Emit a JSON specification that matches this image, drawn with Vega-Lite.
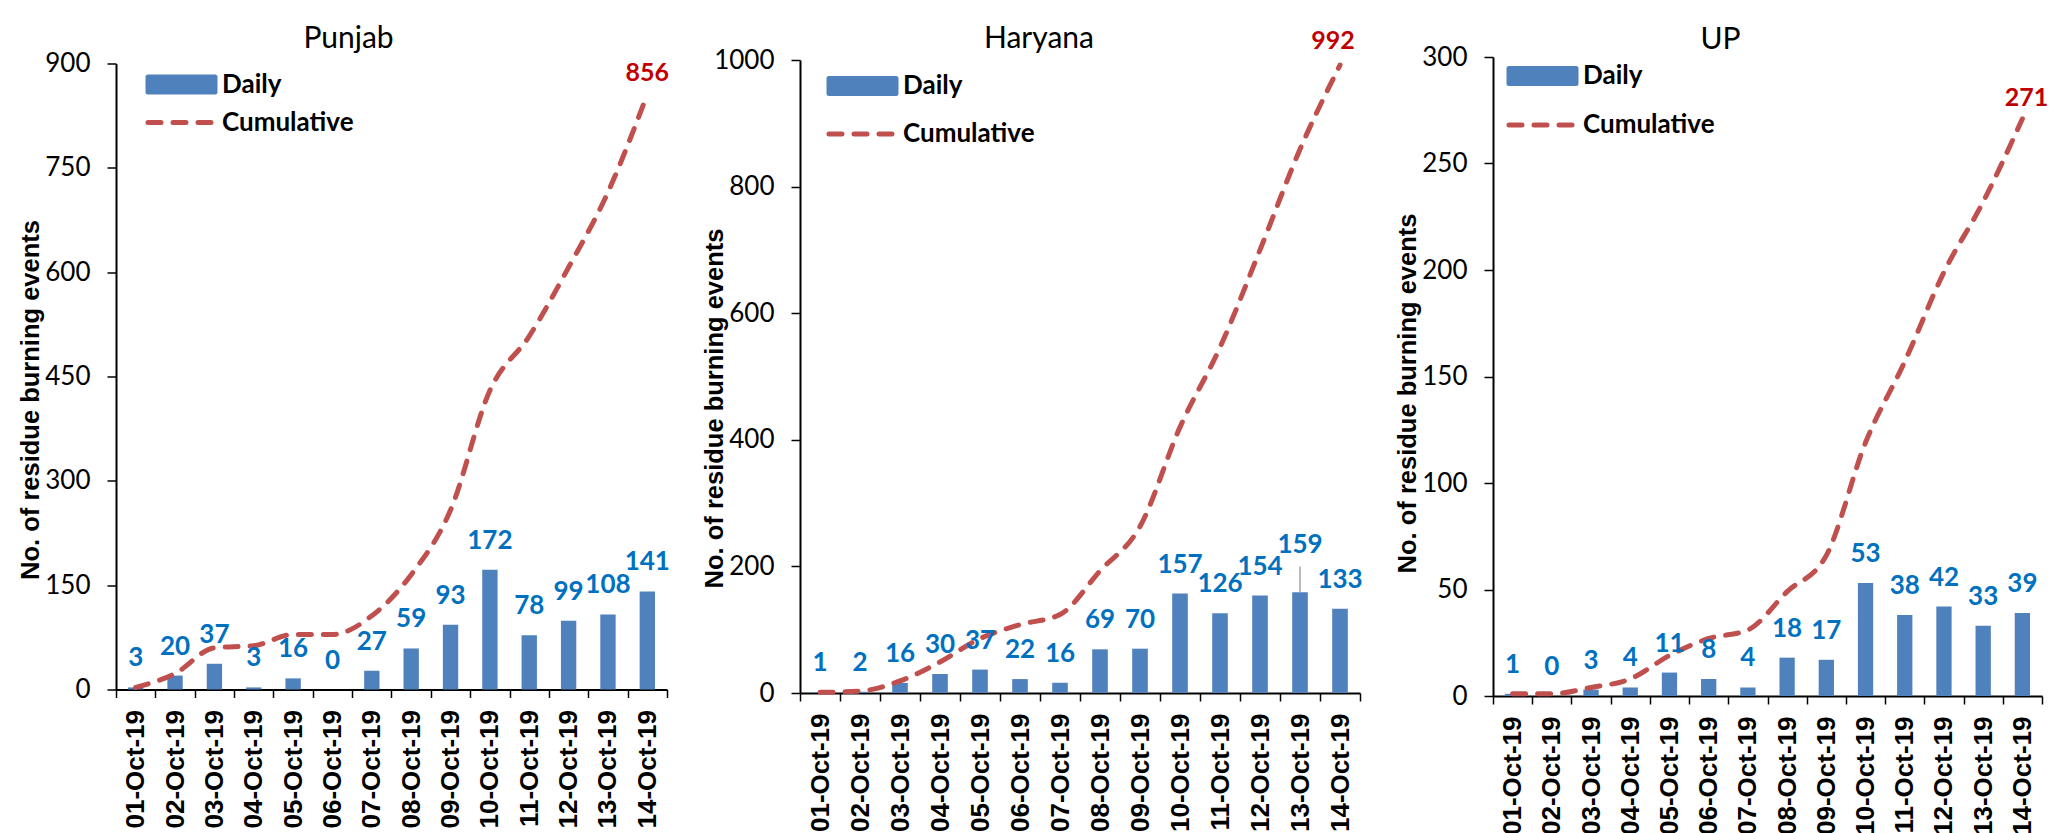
{
  "$schema": "https://vega.github.io/schema/vega-lite/v6.json",
  "background": "white",
  "padding": {"left": 18, "top": 23, "right": 5, "bottom": 0},
  "data": {"values": [
    {"state": "Punjab", "date": "01-Oct-19", "daily": 3, "cumulative": 3},
    {"state": "Punjab", "date": "02-Oct-19", "daily": 20, "cumulative": 23},
    {"state": "Punjab", "date": "03-Oct-19", "daily": 37, "cumulative": 60},
    {"state": "Punjab", "date": "04-Oct-19", "daily": 3, "cumulative": 63},
    {"state": "Punjab", "date": "05-Oct-19", "daily": 16, "cumulative": 79},
    {"state": "Punjab", "date": "06-Oct-19", "daily": 0, "cumulative": 79},
    {"state": "Punjab", "date": "07-Oct-19", "daily": 27, "cumulative": 106},
    {"state": "Punjab", "date": "08-Oct-19", "daily": 59, "cumulative": 165},
    {"state": "Punjab", "date": "09-Oct-19", "daily": 93, "cumulative": 258},
    {"state": "Punjab", "date": "10-Oct-19", "daily": 172, "cumulative": 430},
    {"state": "Punjab", "date": "11-Oct-19", "daily": 78, "cumulative": 508},
    {"state": "Punjab", "date": "12-Oct-19", "daily": 99, "cumulative": 607},
    {"state": "Punjab", "date": "13-Oct-19", "daily": 108, "cumulative": 715},
    {"state": "Punjab", "date": "14-Oct-19", "daily": 141, "cumulative": 856},
    {"state": "Haryana", "date": "01-Oct-19", "daily": 1, "cumulative": 1},
    {"state": "Haryana", "date": "02-Oct-19", "daily": 2, "cumulative": 3},
    {"state": "Haryana", "date": "03-Oct-19", "daily": 16, "cumulative": 19},
    {"state": "Haryana", "date": "04-Oct-19", "daily": 30, "cumulative": 49},
    {"state": "Haryana", "date": "05-Oct-19", "daily": 37, "cumulative": 86},
    {"state": "Haryana", "date": "06-Oct-19", "daily": 22, "cumulative": 108},
    {"state": "Haryana", "date": "07-Oct-19", "daily": 16, "cumulative": 124},
    {"state": "Haryana", "date": "08-Oct-19", "daily": 69, "cumulative": 193},
    {"state": "Haryana", "date": "09-Oct-19", "daily": 70, "cumulative": 263},
    {"state": "Haryana", "date": "10-Oct-19", "daily": 157, "cumulative": 420},
    {"state": "Haryana", "date": "11-Oct-19", "daily": 126, "cumulative": 546},
    {"state": "Haryana", "date": "12-Oct-19", "daily": 154, "cumulative": 700},
    {"state": "Haryana", "date": "13-Oct-19", "daily": 159, "cumulative": 859},
    {"state": "Haryana", "date": "14-Oct-19", "daily": 133, "cumulative": 992},
    {"state": "UP", "date": "01-Oct-19", "daily": 1, "cumulative": 1},
    {"state": "UP", "date": "02-Oct-19", "daily": 0, "cumulative": 1},
    {"state": "UP", "date": "03-Oct-19", "daily": 3, "cumulative": 4},
    {"state": "UP", "date": "04-Oct-19", "daily": 4, "cumulative": 8},
    {"state": "UP", "date": "05-Oct-19", "daily": 11, "cumulative": 19},
    {"state": "UP", "date": "06-Oct-19", "daily": 8, "cumulative": 27},
    {"state": "UP", "date": "07-Oct-19", "daily": 4, "cumulative": 31},
    {"state": "UP", "date": "08-Oct-19", "daily": 18, "cumulative": 49},
    {"state": "UP", "date": "09-Oct-19", "daily": 17, "cumulative": 66},
    {"state": "UP", "date": "10-Oct-19", "daily": 53, "cumulative": 119},
    {"state": "UP", "date": "11-Oct-19", "daily": 38, "cumulative": 157},
    {"state": "UP", "date": "12-Oct-19", "daily": 42, "cumulative": 199},
    {"state": "UP", "date": "13-Oct-19", "daily": 33, "cumulative": 232},
    {"state": "UP", "date": "14-Oct-19", "daily": 39, "cumulative": 271}
  ]},
  "spacing": 133,
  "bounds": "flush",
  "center": true,
  "resolve": {"scale": {"color": "independent", "y": "independent", "x": "independent"}, "legend": {"color": "independent"}, "axis": {"x": "independent", "y": "independent"}},
  "hconcat": [
    {
      "width": 551, "height": 626,
      "title": {"text": "Punjab", "dx": -43, "offset": -3},
      "transform": [{"filter": "datum.state === 'Punjab'"}],
      "encoding": {"x": {"field": "date", "type": "ordinal", "sort": null, "title": null, "scale": {"paddingInner": 0, "paddingOuter": 0}}},
      "layer": [
        {"mark": {"type": "bar", "width": {"band": 0.39}, "color": "#4F81BD"},
         "encoding": {
           "y": {"field": "daily", "type": "quantitative", "title": "No. of residue burning events", "scale": {"domain": [0, 900], "nice": false}, "axis": {"values": [0, 150, 300, 450, 600, 750, 900], "format": "d", "titleY": 336}},
           "color": {"datum": "Daily", "type": "nominal", "scale": {"domain": ["Daily", "Cumulative"], "range": ["#4F81BD", "#C0504D"]},
             "legend": {"legendX": 29, "legendY": 8, "rowPadding": 7,
               "encode": {"symbols": {"update": {
                 "shape": {"signal": "datum.value === 'Daily' ? 'M-1,-0.75H5.7V0.75H-1Z' : 'M-1,0H5.7'"},
                 "fill": {"signal": "datum.value === 'Daily' ? '#4F81BD' : 'transparent'"},
                 "stroke": {"signal": "datum.value === 'Daily' ? 'transparent' : '#C0504D'"},
                 "strokeWidth": {"value": 5},
                 "strokeDash": {"signal": "datum.value === 'Daily' ? [1, 0] : [13, 12]"},
                 "strokeCap": {"value": "round"},
                 "opacity": {"value": 1}}}}}}}},
        {"mark": {"type": "line", "strokeWidth": 5, "strokeDash": [13, 12], "strokeCap": "round", "interpolate": "monotone"},
         "encoding": {
           "y": {"field": "cumulative", "type": "quantitative", "title": "No. of residue burning events", "scale": {"domain": [0, 900], "nice": false}},
           "color": {"datum": "Cumulative", "type": "nominal"}}},
        {"mark": {"type": "text", "dy": -29, "baseline": "middle", "font": "Lato", "fontSize": 26, "fontWeight": "bold", "color": "#0070C0"},
         "encoding": {
           "y": {"field": "daily", "type": "quantitative", "title": "No. of residue burning events", "scale": {"domain": [0, 900], "nice": false}},
           "text": {"field": "daily", "type": "quantitative"}}},
        {"transform": [{"filter": "datum.date === '14-Oct-19'"}],
         "mark": {"type": "text", "dy": -21, "baseline": "middle", "font": "Lato", "fontSize": 25, "fontWeight": "bold", "color": "#C00000"},
         "encoding": {
           "y": {"field": "cumulative", "type": "quantitative", "title": "No. of residue burning events", "scale": {"domain": [0, 900], "nice": false}},
           "text": {"field": "cumulative", "type": "quantitative"}}}
      ]
    },
    {
      "width": 560, "height": 633,
      "title": {"text": "Haryana", "dx": -41, "offset": -25},
      "transform": [{"filter": "datum.state === 'Haryana'"}],
      "encoding": {"x": {"field": "date", "type": "ordinal", "sort": null, "title": null, "scale": {"paddingInner": 0, "paddingOuter": 0}}},
      "layer": [
        {"mark": {"type": "bar", "width": {"band": 0.39}, "color": "#4F81BD"},
         "encoding": {
           "y": {"field": "daily", "type": "quantitative", "title": "No. of residue burning events", "scale": {"domain": [0, 1000], "nice": false}, "axis": {"values": [0, 200, 400, 600, 800, 1000], "format": "d", "titleY": 348}},
           "color": {"datum": "Daily", "type": "nominal", "scale": {"domain": ["Daily", "Cumulative"], "range": ["#4F81BD", "#C0504D"]},
             "legend": {"legendX": 26, "legendY": 13, "rowPadding": 17,
               "encode": {"symbols": {"update": {
                 "shape": {"signal": "datum.value === 'Daily' ? 'M-1,-0.75H5.7V0.75H-1Z' : 'M-1,0H5.7'"},
                 "fill": {"signal": "datum.value === 'Daily' ? '#4F81BD' : 'transparent'"},
                 "stroke": {"signal": "datum.value === 'Daily' ? 'transparent' : '#C0504D'"},
                 "strokeWidth": {"value": 5},
                 "strokeDash": {"signal": "datum.value === 'Daily' ? [1, 0] : [13, 12]"},
                 "strokeCap": {"value": "round"},
                 "opacity": {"value": 1}}}}}}}},
        {"mark": {"type": "line", "strokeWidth": 5, "strokeDash": [13, 12], "strokeCap": "round", "interpolate": "monotone"},
         "encoding": {
           "y": {"field": "cumulative", "type": "quantitative", "title": "No. of residue burning events", "scale": {"domain": [0, 1000], "nice": false}},
           "color": {"datum": "Cumulative", "type": "nominal"}}},
        {"transform": [{"filter": "datum.date !== '13-Oct-19'"}],
         "mark": {"type": "text", "dy": -29, "baseline": "middle", "font": "Lato", "fontSize": 26, "fontWeight": "bold", "color": "#0070C0"},
         "encoding": {
           "y": {"field": "daily", "type": "quantitative", "title": "No. of residue burning events", "scale": {"domain": [0, 1000], "nice": false}},
           "text": {"field": "daily", "type": "quantitative"}}},
        {"transform": [{"filter": "datum.date === '13-Oct-19'"}],
         "mark": {"type": "rule", "color": "#A6A6A6", "strokeWidth": 1.5},
         "encoding": {
           "y": {"field": "daily", "type": "quantitative", "title": "No. of residue burning events", "scale": {"domain": [0, 1000], "nice": false}},
           "y2": {"datum": 200}}},
        {"transform": [{"filter": "datum.date === '13-Oct-19'"}],
         "mark": {"type": "text", "dy": -47, "baseline": "middle", "font": "Lato", "fontSize": 26, "fontWeight": "bold", "color": "#0070C0"},
         "encoding": {
           "y": {"field": "daily", "type": "quantitative", "title": "No. of residue burning events", "scale": {"domain": [0, 1000], "nice": false}},
           "text": {"field": "daily", "type": "quantitative"}}},
        {"transform": [{"filter": "datum.date === '14-Oct-19'"}],
         "mark": {"type": "text", "dy": -24, "dx": -7, "baseline": "middle", "font": "Lato", "fontSize": 25, "fontWeight": "bold", "color": "#C00000"},
         "encoding": {
           "y": {"field": "cumulative", "type": "quantitative", "title": "No. of residue burning events", "scale": {"domain": [0, 1000], "nice": false}},
           "text": {"field": "cumulative", "type": "quantitative"}}}
      ]
    },
    {
      "width": 549, "height": 639,
      "title": {"text": "UP", "dx": -47, "offset": -11},
      "transform": [{"filter": "datum.state === 'UP'"}],
      "encoding": {"x": {"field": "date", "type": "ordinal", "sort": null, "title": null, "scale": {"paddingInner": 0, "paddingOuter": 0}}},
      "layer": [
        {"mark": {"type": "bar", "width": {"band": 0.39}, "color": "#4F81BD"},
         "encoding": {
           "y": {"field": "daily", "type": "quantitative", "title": "No. of residue burning events", "scale": {"domain": [0, 300], "nice": false}, "axis": {"values": [0, 50, 100, 150, 200, 250, 300], "format": "d", "titleY": 336}},
           "color": {"datum": "Daily", "type": "nominal", "scale": {"domain": ["Daily", "Cumulative"], "range": ["#4F81BD", "#C0504D"]},
             "legend": {"legendX": 13, "legendY": 6, "rowPadding": 18,
               "encode": {"symbols": {"update": {
                 "shape": {"signal": "datum.value === 'Daily' ? 'M-1,-0.75H5.7V0.75H-1Z' : 'M-1,0H5.7'"},
                 "fill": {"signal": "datum.value === 'Daily' ? '#4F81BD' : 'transparent'"},
                 "stroke": {"signal": "datum.value === 'Daily' ? 'transparent' : '#C0504D'"},
                 "strokeWidth": {"value": 5},
                 "strokeDash": {"signal": "datum.value === 'Daily' ? [1, 0] : [13, 12]"},
                 "strokeCap": {"value": "round"},
                 "opacity": {"value": 1}}}}}}}},
        {"mark": {"type": "line", "strokeWidth": 5, "strokeDash": [13, 12], "strokeCap": "round", "interpolate": "monotone"},
         "encoding": {
           "y": {"field": "cumulative", "type": "quantitative", "title": "No. of residue burning events", "scale": {"domain": [0, 300], "nice": false}},
           "color": {"datum": "Cumulative", "type": "nominal"}}},
        {"mark": {"type": "text", "dy": -29, "baseline": "middle", "font": "Lato", "fontSize": 26, "fontWeight": "bold", "color": "#0070C0"},
         "encoding": {
           "y": {"field": "daily", "type": "quantitative", "title": "No. of residue burning events", "scale": {"domain": [0, 300], "nice": false}},
           "text": {"field": "daily", "type": "quantitative"}}},
        {"transform": [{"filter": "datum.date === '14-Oct-19'"}],
         "mark": {"type": "text", "dy": -21, "dx": 4, "baseline": "middle", "font": "Lato", "fontSize": 25, "fontWeight": "bold", "color": "#C00000"},
         "encoding": {
           "y": {"field": "cumulative", "type": "quantitative", "title": "No. of residue burning events", "scale": {"domain": [0, 300], "nice": false}},
           "text": {"field": "cumulative", "type": "quantitative"}}}
      ]
    }
  ],
  "config": {
    "view": {"stroke": null},
    "title": {"font": "Lato", "fontSize": 30, "fontWeight": "normal", "color": "#000000", "anchor": "middle", "baseline": "alphabetic"},
    "axisX": {"labelAngle": -90, "labelFont": "Liberation Sans", "labelFontSize": 26, "labelFontWeight": "bold", "labelColor": "#000000", "labelPadding": 12, "tickBand": "extent", "tickSize": 8, "tickColor": "#000000", "tickWidth": 1.5, "domainColor": "#000000", "domainWidth": 2, "labelOverlap": false, "grid": false},
    "axisY": {"labelFont": "Lato", "labelFontSize": 26, "labelColor": "#000000", "labelPadding": 17, "tickSize": 9, "tickColor": "#000000", "tickWidth": 1.5, "domainColor": "#000000", "domainWidth": 2, "grid": false, "titleFont": "Liberation Sans", "titleFontSize": 25.5, "titleFontWeight": "bold", "titleColor": "#000000", "titleX": -86, "titleBaseline": "middle"},
    "legend": {"orient": "none", "title": null, "padding": 0, "labelFont": "Lato", "labelFontSize": 26, "labelFontWeight": "bold", "labelColor": "#000000", "symbolSize": 400, "labelOffset": 51}
  }
}
